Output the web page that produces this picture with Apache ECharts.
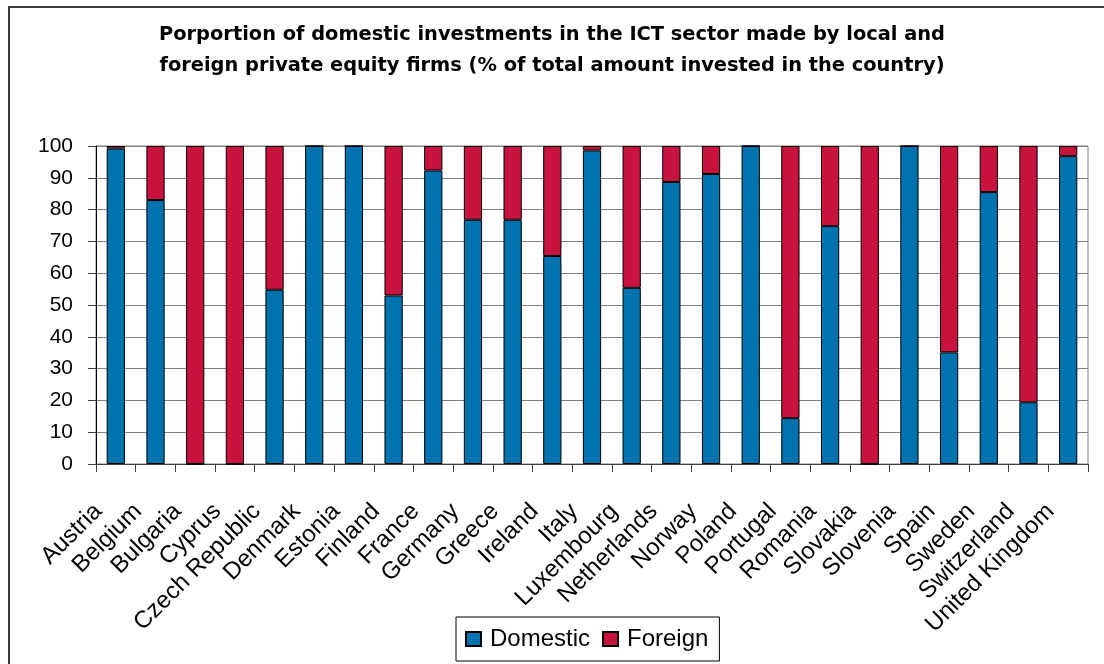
<!DOCTYPE html>
<html>
	<head>
		<meta charset="utf-8">
		<title>ICT private equity</title>
		<script src="https://cdn.jsdelivr.net/npm/echarts@6/dist/echarts.min.js"></script>
		<style>
			html, body {
				margin: 0;
				padding: 0;
				background: #ffffff;
			}
			#main {
				width: 1104px;
				height: 664px;
			}
		</style>
	</head>
	<body>
		<div id="main"></div>
	</body>
	<script>
		var countries = ["Austria", "Belgium", "Bulgaria", "Cyprus", "Czech Republic", "Denmark", "Estonia",
			"Finland", "France", "Germany", "Greece", "Ireland", "Italy", "Luxembourg", "Netherlands",
			"Norway", "Poland", "Portugal", "Romania", "Slovakia", "Slovenia", "Spain", "Sweden",
			"Switzerland", "United Kingdom"];
		var domestic = [99.2, 83, 0, 0, 54.8, 100, 100, 53, 92.3, 76.8, 76.8, 65.4, 98.6, 55.4, 88.7,
			91.2, 100, 14.4, 74.8, 0, 100, 35.1, 85.5, 19.4, 96.8];
		var foreign = [0.8, 17, 100, 100, 45.2, 0, 0, 47, 7.7, 23.2, 23.2, 34.6, 1.4, 44.6, 11.3,
			8.8, 0, 85.6, 25.2, 100, 0, 64.9, 14.5, 80.6, 3.2];
		var yTicks = { min: 0, max: 100, step: 10 };

		var font = "Liberation Sans, Arial, sans-serif";

		function draw(option) {
			let dom = document.getElementById("main");
			let echart = echarts.init(dom, null, { renderer: "canvas" });
			echart.setOption(option);
		}

		let option = {
			animation: false,
			backgroundColor: "#ffffff",
			title: {
				text: "Porportion of domestic investments in the ICT sector made by local and\nforeign private equity firms (% of total amount invested in the country)",
				left: "center",
				top: 14,
				textStyle: {
					fontFamily: "DejaVu Sans, sans-serif",
					fontSize: 19.4,
					fontWeight: "bold",
					color: "#000000",
					lineHeight: 31
				}
			},
			graphic: [{
				type: "rect",
				shape: { x: 9, y: 7, width: 1120, height: 700 },
				style: { fill: "none", stroke: "#3a3a3a", lineWidth: 2 },
				silent: true
			}],
			legend: {
				left: 456,
				top: 617,
				padding: [9, 11, 9, 9],
				itemWidth: 15,
				itemHeight: 14,
				itemGap: 12,
				icon: "rect",
				borderColor: "#000000",
				borderWidth: 1,
				textStyle: {
					fontFamily: font,
					fontSize: 24,
					lineHeight: 26,
					color: "#000000",
					padding: [0, 0, 0, 4]
				},
				data: ["Domestic", "Foreign"]
			},
			grid: {
				left: 96,
				right: 16,
				top: 146,
				bottom: 200,
				show: true,
				borderColor: "#808080",
				borderWidth: 1,
				backgroundColor: "transparent"
			},
			xAxis: {
				type: "category",
				data: countries,
				axisLine: { lineStyle: { color: "#404040", width: 1 } },
				axisTick: { show: true, length: 8, lineStyle: { color: "#404040" } },
				axisLabel: {
					rotate: 45,
					interval: 0,
					margin: 26,
					padding: [0, 25, 0, 0],
					fontFamily: font,
					fontSize: 24,
					color: "#000000"
				}
			},
			yAxis: {
				type: "value",
				min: yTicks.min,
				max: yTicks.max,
				interval: yTicks.step,
				axisLine: { show: true, lineStyle: { color: "#000000", width: 1 } },
				axisTick: { show: true, length: 8, lineStyle: { color: "#404040" } },
				axisLabel: {
					margin: 23,
					fontFamily: font,
					fontSize: 21,
					color: "#000000"
				},
				splitLine: { show: true, lineStyle: { color: "#808080", width: 1 } }
			},
			series: [{
				name: "Domestic",
				type: "bar",
				stack: "total",
				barWidth: "46%",
				data: domestic,
				itemStyle: { color: "#0072ae", borderColor: "#000000", borderWidth: 1 }
			}, {
				name: "Foreign",
				type: "bar",
				stack: "total",
				barWidth: "46%",
				data: foreign,
				itemStyle: { color: "#c8133f", borderColor: "#000000", borderWidth: 1 }
			}]
		};
		draw(option);
	</script>
</html>
